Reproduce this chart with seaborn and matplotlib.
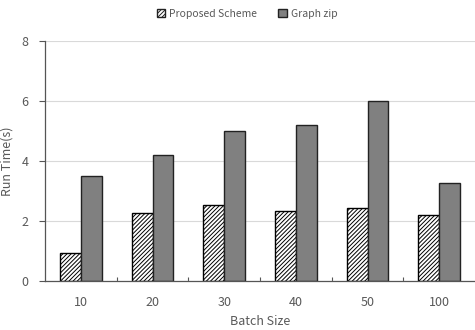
import pandas as pd
import numpy as np
import matplotlib.pyplot as plt
import seaborn as sns

## Dados
batch_sizes = ['10', '20', '30', '40', '50', '100']
proposed = [0.95, 2.27, 2.55, 2.33, 2.44, 2.2]
graph_zip = [3.5, 4.2, 5.0, 5.2, 6.0, 3.28]
series_names = ['Proposed Scheme', 'Graph zip']

df = pd.DataFrame({
    'Batch Size': batch_sizes * 2,
    'Run Time(s)': proposed + graph_zip,
    'Serie': [series_names[0]] * len(batch_sizes) + [series_names[1]] * len(batch_sizes),
})

sns.set_theme(style="white")
plt.rcParams['font.family'] = ['Noto Sans CJK KR', 'DejaVu Sans']
plt.rcParams['hatch.linewidth'] = 0.7
text_color = '#595959'

fig = plt.figure(figsize=(4.75, 3.3), dpi=100)
ax = fig.add_axes([0.095, 0.148, 0.905, 0.728])

sns.barplot(data=df, x='Batch Size', y='Run Time(s)', hue='Serie',
            palette=['white', '#808080'], width=0.58, gap=0,
            edgecolor='#222222', linewidth=1.0, ax=ax)

# Hachura na série proposta
n = len(batch_sizes)
for bar in ax.patches[:n]:
    bar.set_hatch('////////')
    bar.set_edgecolor('black')

ax.set_ylim(0, 8)
ax.set_yticks([0, 2, 4, 6, 8])
ax.yaxis.grid(True, color='#d9d9d9', linewidth=0.8)
ax.set_axisbelow(True)
ax.set_xlim(-0.5, n - 0.5)

for s in ['top', 'right']:
    ax.spines[s].set_visible(False)
for s in ['left', 'bottom']:
    ax.spines[s].set_color('#555555')
    ax.spines[s].set_linewidth(0.9)

ax.tick_params(axis='y', left=True, length=4, width=0.8, color='#555555',
               labelsize=9, labelcolor=text_color, pad=8)
ax.tick_params(axis='x', bottom=False, labelsize=9, labelcolor=text_color, pad=5)
ax.set_xticks(np.arange(0.5, n - 1, 1), minor=True)
ax.tick_params(axis='x', which='minor', bottom=True, direction='in', length=3,
               width=0.8, color='#555555')

ax.set_xlabel('Batch Size', fontsize=9, color=text_color, labelpad=4)
ax.set_ylabel('Run Time(s)', fontsize=9, color=text_color, labelpad=6)

leg = ax.legend(loc='center', bbox_to_anchor=(0.47, 1.112), ncol=2,
                frameon=False, fontsize=7.5, handlelength=0.8, handleheight=0.8,
                handletextpad=0.4, columnspacing=2.0)
for t in leg.get_texts():
    t.set_color(text_color)
leg.get_patches()[0].set_hatch('////////')

plt.savefig('out.png', dpi=100)
